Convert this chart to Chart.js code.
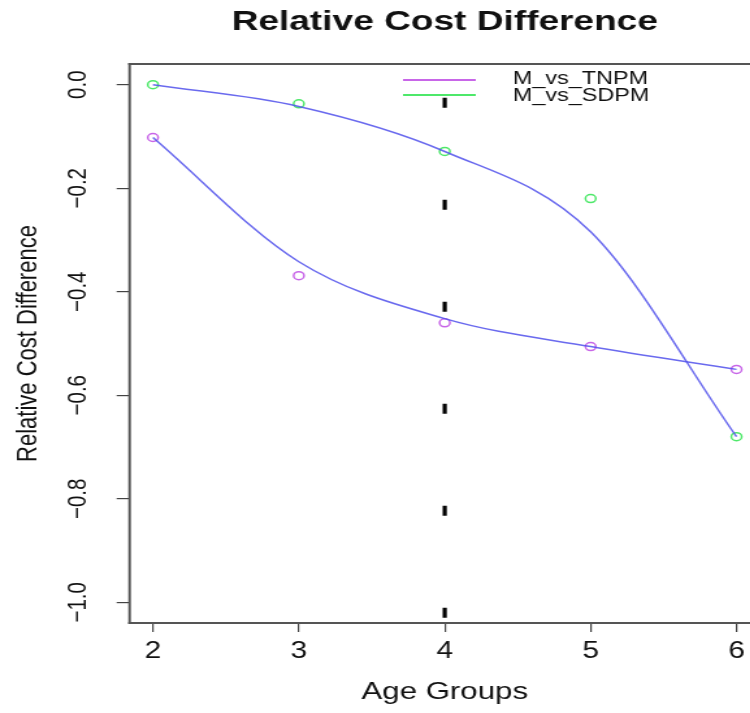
<!DOCTYPE html>
<html>
<head>
<meta charset="utf-8">
<script src="https://cdn.jsdelivr.net/npm/chart.js@4/dist/chart.umd.min.js"></script>
<style>
  html, body { margin: 0; padding: 0; background: #fff; overflow: hidden; }
  #wrap { width: 590px; height: 713px; transform: scaleX(1.3); transform-origin: 0 0; }
</style>
</head>
<body>
<div id="wrap"><canvas id="chart" width="590" height="713"></canvas></div>
<script>
const ageGroups = [2, 3, 4, 5, 6];
const tnpmValues = [-0.102, -0.369, -0.46, -0.506, -0.55];
const sdpmValues = [0.0, -0.037, -0.129, -0.22, -0.68];
// smoothed fits drawn through the points
const tnpmFit = [-0.102, -0.342, -0.452, -0.506, -0.55];
const sdpmFit = [0.0, -0.042, -0.129, -0.284, -0.68];
const refLineX = 4;
const refLineY = [-0.025, -1.04];
const xTicks = [2, 3, 4, 5, 6];
const yTicks = [0.0, -0.2, -0.4, -0.6, -0.8, -1.0];
const seriesNames = ['M_vs_TNPM', 'M_vs_SDPM'];

const purple = '#c866e8';
const green = '#4ee86a';
const blue = 'rgba(80, 80, 235, 0.85)';
const fontFamily = '"Liberation Sans", Arial, sans-serif';

function pts(xs, ys) {
    return xs.map((x, i) => ({ x: x, y: ys[i] }));
}

function fmt(v) {
    return (v < 0 ? '\u2212' : '') + Math.abs(v).toFixed(1);
}

// box, axis labels, titles and legend in R style
const rDecor = {
    id: 'rDecor',
    afterDraw(chart) {
        const ctx = chart.ctx;
        const area = chart.chartArea;
        const xs = chart.scales.x;
        const ys = chart.scales.y;
        const cx = (area.left + area.right) / 2;
        const w = area.right - area.left;
        const h = area.bottom - area.top;
        ctx.save();
        ctx.fillStyle = '#555';
        ctx.fillRect(area.left - 1, area.top - 1, w + 2, 2);
        ctx.fillRect(area.left - 1, area.bottom - 1, w + 2, 2);
        ctx.fillRect(area.left - 1, area.top - 1, 2, h + 2);
        ctx.fillRect(area.right - 1, area.top - 1, 2, h + 2);

        ctx.fillStyle = '#111';
        ctx.textAlign = 'center';
        ctx.textBaseline = 'middle';
        ctx.font = '20.5px ' + fontFamily;
        ys.ticks.forEach(t => {
            ctx.save();
            ctx.translate(60, ys.getPixelForValue(t.value));
            ctx.rotate(-Math.PI / 2);
            ctx.fillText(fmt(t.value), 0, 0);
            ctx.restore();
        });

        ctx.font = '23px ' + fontFamily;
        xs.ticks.forEach(t => {
            ctx.fillText(String(t.value), xs.getPixelForValue(t.value), 652);
        });

        ctx.save();
        ctx.translate(21.5, (area.top + area.bottom) / 2);
        ctx.rotate(-Math.PI / 2);
        ctx.font = '22px ' + fontFamily;
        ctx.fillText('Relative Cost Difference', 0, 0);
        ctx.restore();

        ctx.font = 'bold 28.5px ' + fontFamily;
        ctx.fillText('Relative Cost Difference', cx, 22);

        ctx.font = '24px ' + fontFamily;
        ctx.fillText('Age Groups', cx, 692);

        // legend
        ctx.lineWidth = 2;
        [purple, green].forEach((c, i) => {
            const y = 80 + i * 15;
            ctx.strokeStyle = c;
            ctx.beginPath();
            ctx.moveTo(310, y);
            ctx.lineTo(366, y);
            ctx.stroke();
        });
        ctx.textAlign = 'left';
        ctx.font = '18px ' + fontFamily;
        seriesNames.forEach((n, i) => {
            ctx.fillText(n, 394.5, 79 + i * 17);
        });
        ctx.restore();
    }
};

new Chart(document.getElementById('chart'), {
    type: 'scatter',
    data: {
        datasets: [
            {
                label: 'tnpm fit',
                type: 'line',
                data: pts(ageGroups, tnpmFit),
                borderColor: blue,
                borderWidth: 1.5,
                pointRadius: 0,
                cubicInterpolationMode: 'monotone',
                fill: false
            },
            {
                label: 'sdpm fit',
                type: 'line',
                data: pts(ageGroups, sdpmFit),
                borderColor: blue,
                borderWidth: 1.5,
                pointRadius: 0,
                cubicInterpolationMode: 'monotone',
                fill: false
            },
            {
                label: 'age 4',
                type: 'line',
                data: pts([refLineX, refLineX], refLineY),
                borderColor: '#000',
                borderWidth: 3.2,
                borderDash: [10, 92],
                pointRadius: 0,
                fill: false
            },
            {
                label: seriesNames[0],
                data: pts(ageGroups, tnpmValues),
                borderColor: purple,
                backgroundColor: 'rgba(0,0,0,0)',
                borderWidth: 1.5,
                pointRadius: 4
            },
            {
                label: seriesNames[1],
                data: pts(ageGroups, sdpmValues),
                borderColor: green,
                backgroundColor: 'rgba(0,0,0,0)',
                borderWidth: 1.5,
                pointRadius: 4
            }
        ]
    },
    options: {
        responsive: false,
        animation: false,
        layout: { padding: { top: 64, bottom: 90, left: 0, right: 4.3 } },
        plugins: {
            legend: { display: false },
            title: { display: false },
            tooltip: { enabled: false }
        },
        scales: {
            x: {
                type: 'linear',
                min: 1.84,
                max: 6.16,
                afterBuildTicks: s => { s.ticks = xTicks.map(v => ({ value: v })); },
                afterFit: s => { s.height = 0; },
                border: { display: false },
                grid: { drawOnChartArea: false, drawTicks: true, tickLength: 9, color: '#444', lineWidth: 1.2 },
                ticks: { display: false }
            },
            y: {
                min: -1.04,
                max: 0.04,
                afterBuildTicks: s => { s.ticks = yTicks.map(v => ({ value: v })); },
                afterFit: s => { s.width = 99.7; },
                border: { display: false },
                grid: { drawOnChartArea: false, drawTicks: true, tickLength: 10, color: '#444', lineWidth: 1.2 },
                ticks: { display: false }
            }
        }
    },
    plugins: [rDecor]
});
</script>
</body>
</html>
